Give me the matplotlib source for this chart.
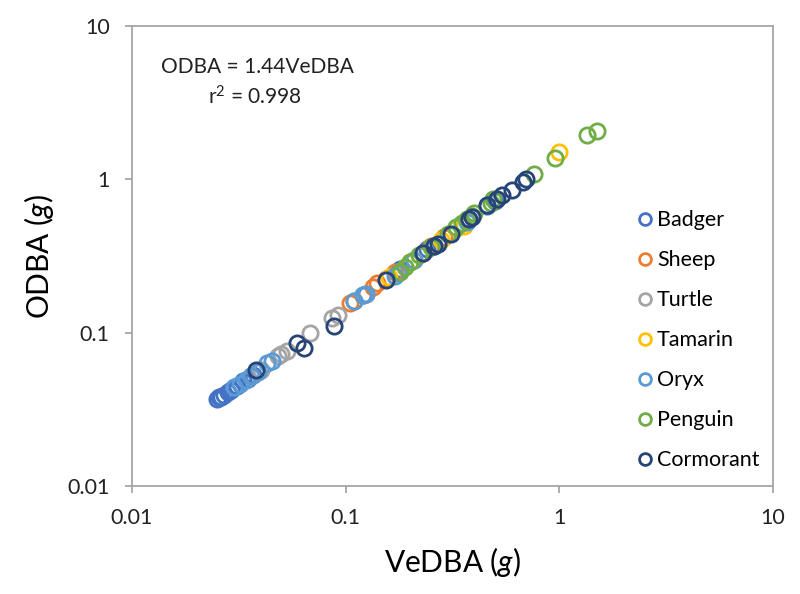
import matplotlib
matplotlib.use('Agg')
import matplotlib.pyplot as plt
from matplotlib.ticker import FixedLocator, NullLocator

plt.rcParams['font.family'] = ['Lato', 'DejaVu Sans']
plt.rcParams['mathtext.fontset'] = 'custom'
plt.rcParams['mathtext.rm'] = 'Lato'
plt.rcParams['mathtext.it'] = 'Lato:italic'

species = ['Badger', 'Sheep', 'Turtle', 'Tamarin', 'Oryx', 'Penguin', 'Cormorant']
colors = ['#4472C4', '#ED7D31', '#A5A5A5', '#FFC000', '#5B9BD5', '#70AD47', '#264478']

badger_x = [0.025, 0.0255, 0.026, 0.027, 0.028, 0.029, 0.031, 0.033, 0.035, 0.037,
            0.12, 0.18, 0.24, 0.33, 0.46, 0.50]
badger_y = [0.037, 0.038, 0.038, 0.039, 0.041, 0.042, 0.045, 0.048, 0.050, 0.053,
            0.175, 0.26, 0.35, 0.48, 0.67, 0.72]

sheep_x = [0.105, 0.11, 0.125, 0.135, 0.14, 0.155, 0.17, 0.20, 0.23, 0.25, 0.29]
sheep_y = [0.155, 0.16, 0.18, 0.20, 0.21, 0.225, 0.25, 0.29, 0.33, 0.37, 0.42]

turtle_x = [0.036, 0.040, 0.048, 0.050, 0.053, 0.068, 0.086, 0.092]
turtle_y = [0.052, 0.057, 0.070, 0.073, 0.076, 0.100, 0.125, 0.130]

tamarin_x = [0.16, 0.21, 0.28, 0.33, 0.36, 1.00]
tamarin_y = [0.23, 0.30, 0.40, 0.48, 0.50, 1.50]

oryx_x = [0.030, 0.032, 0.034, 0.036, 0.039, 0.043, 0.045, 0.11, 0.12, 0.125,
          0.17, 0.175, 0.21, 0.26, 0.37]
oryx_y = [0.044, 0.046, 0.049, 0.052, 0.055, 0.063, 0.065, 0.16, 0.175, 0.18,
          0.235, 0.245, 0.30, 0.37, 0.53]

penguin_x = [0.18, 0.19, 0.20, 0.22, 0.25, 0.30, 0.33, 0.35, 0.37, 0.39, 0.40,
             0.48, 0.49, 0.76, 0.96, 1.35, 1.50]
penguin_y = [0.25, 0.27, 0.29, 0.32, 0.36, 0.44, 0.49, 0.52, 0.55, 0.58, 0.60,
             0.70, 0.74, 1.08, 1.38, 1.95, 2.08]

cormorant_x = [0.038, 0.059, 0.064, 0.088, 0.155, 0.23, 0.26, 0.27, 0.31, 0.38,
               0.39, 0.46, 0.51, 0.54, 0.60, 0.68, 0.70]
cormorant_y = [0.057, 0.086, 0.079, 0.110, 0.22, 0.33, 0.37, 0.38, 0.44, 0.55,
               0.57, 0.68, 0.74, 0.79, 0.85, 0.96, 1.00]

data_x = [badger_x, sheep_x, turtle_x, tamarin_x, oryx_x, penguin_x, cormorant_x]
data_y = [badger_y, sheep_y, turtle_y, tamarin_y, oryx_y, penguin_y, cormorant_y]

ticks = [0.01, 0.1, 1, 10]
tick_labels = ['0.01', '0.1', '1', '10']

fig = plt.figure(figsize=(8, 5.94), dpi=100)
ax = fig.add_axes([0.165, 0.182, 0.801, 0.774])

for name, col, xs, ys in zip(species, colors, data_x, data_y):
    ax.plot(xs, ys, linestyle='none', marker='o', markersize=11,
            markerfacecolor='none', markeredgecolor=col, markeredgewidth=2,
            label=name)

ax.set_xscale('log')
ax.set_yscale('log')
ax.set_xlim(0.01, 10)
ax.set_ylim(0.01, 10)
ax.xaxis.set_major_locator(FixedLocator(ticks))
ax.yaxis.set_major_locator(FixedLocator(ticks))
ax.xaxis.set_minor_locator(NullLocator())
ax.yaxis.set_minor_locator(NullLocator())
ax.set_xticklabels(tick_labels)
ax.set_yticklabels(tick_labels)

for s in ax.spines.values():
    s.set_color('#A6A6A6')
    s.set_linewidth(1.3)
ax.tick_params(axis='both', direction='out', length=5, width=1.3,
               color='#A6A6A6', labelsize=15.5, labelcolor='#222222')
ax.tick_params(axis='x', pad=11)
ax.tick_params(axis='y', pad=11)

ax.set_xlabel('VeDBA ($\\it{g}$)', fontsize=21.5, labelpad=12)
ax.set_ylabel('ODBA ($\\it{g}$)', fontsize=21.5, labelpad=8)

ax.text(0.195, 0.911, 'ODBA = 1.44VeDBA', transform=ax.transAxes,
        ha='center', va='center', fontsize=15, color='#222222')
ax.text(0.192, 0.846, 'r$^{2}$ = 0.998', transform=ax.transAxes,
        ha='center', va='center', fontsize=15, color='#222222')

leg = ax.legend(loc='upper left', bbox_to_anchor=(0.777, 0.618),
                frameon=False, fontsize=15.5, handlelength=0.6,
                handletextpad=0.25, labelspacing=0.93, borderaxespad=0)
for h in leg.legend_handles:
    h.set_markersize(8.5)

fig.savefig('out.png', dpi=100)
